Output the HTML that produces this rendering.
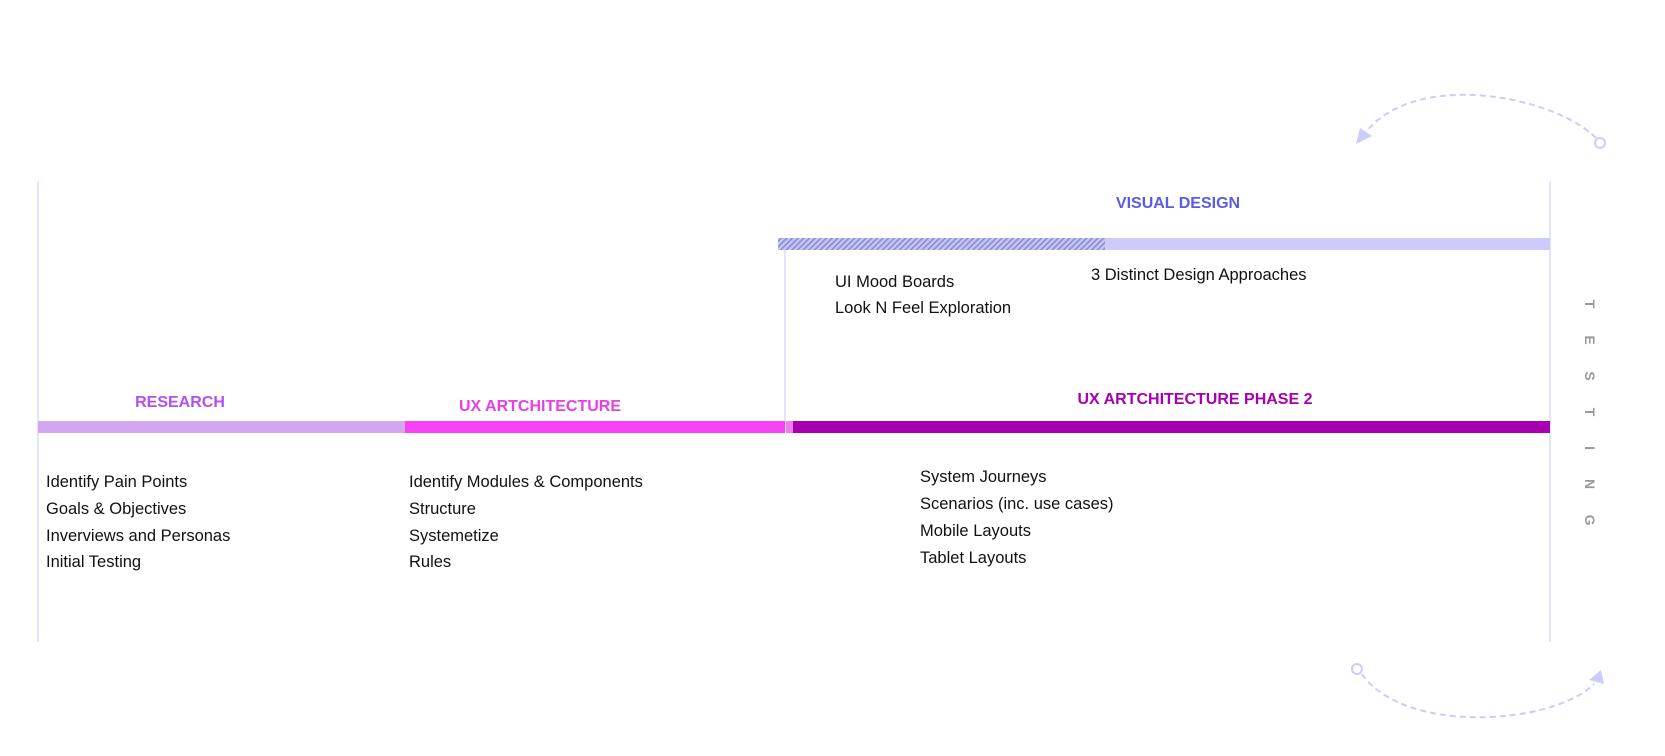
<!DOCTYPE html>
<html><head><meta charset="utf-8"><style>
html,body{margin:0;padding:0;background:#fff;}
svg{display:block;}
text{font-family:"Liberation Sans",sans-serif;}
</style></head><body>
<svg width="1665" height="756" viewBox="0 0 1665 756" xmlns="http://www.w3.org/2000/svg">
<defs>
<pattern id="h" width="4" height="4" patternUnits="userSpaceOnUse" patternTransform="rotate(45)">
<rect width="4" height="4" fill="#c4c4f2"/><rect width="1.5" height="4" fill="#8a8ad0"/>
</pattern>
</defs>
<rect x="37" y="181" width="2" height="461" fill="#e3e3fb"/>
<rect x="1549" y="181" width="2" height="461" fill="#e3e3fb"/>
<rect x="784" y="250" width="2" height="182" fill="#e3e3fb"/>
<rect x="778" y="238" width="772" height="12" fill="#ccccfc"/>
<rect x="778" y="238" width="327" height="12" fill="url(#h)"/>
<rect x="38" y="421" width="367" height="12" fill="#d4a6f2"/>
<rect x="405" y="421" width="380" height="12" fill="#f542f5"/>
<rect x="786" y="421" width="7" height="12" fill="#f07cf0"/>
<rect x="793" y="421" width="757" height="12" fill="#a600b0"/>
<g font-weight="bold" font-size="16" text-anchor="middle">
<text x="1178" y="208" fill="#5b5be8">VISUAL DESIGN</text>
<text x="180" y="407" fill="#b44ef0">RESEARCH</text>
<text x="540" y="411" fill="#e83ee8">UX ARTCHITECTURE</text>
<text x="1195" y="404" fill="#a600b0">UX ARTCHITECTURE PHASE 2</text>
</g>
<g font-size="16.5" fill="#111">
<text x="46" y="487">Identify Pain Points</text>
<text x="46" y="514">Goals &amp; Objectives</text>
<text x="46" y="541">Inverviews and Personas</text>
<text x="46" y="567">Initial Testing</text>
<text x="409" y="487">Identify Modules &amp; Components</text>
<text x="409" y="514">Structure</text>
<text x="409" y="541">Systemetize</text>
<text x="409" y="567">Rules</text>
<text x="920" y="482">System Journeys</text>
<text x="920" y="509">Scenarios (inc. use cases)</text>
<text x="920" y="536">Mobile Layouts</text>
<text x="920" y="563">Tablet Layouts</text>
<text x="835" y="287">UI Mood Boards</text>
<text x="835" y="313">Look N Feel Exploration</text>
<text x="1091" y="280">3 Distinct Design Approaches</text>
</g>
<g font-weight="bold" font-size="14" fill="#999">
<text transform="translate(1585,304) rotate(90)" text-anchor="middle">T</text>
<text transform="translate(1585,340) rotate(90)" text-anchor="middle">E</text>
<text transform="translate(1585,376) rotate(90)" text-anchor="middle">S</text>
<text transform="translate(1585,412) rotate(90)" text-anchor="middle">T</text>
<text transform="translate(1585,448) rotate(90)" text-anchor="middle">I</text>
<text transform="translate(1585,484) rotate(90)" text-anchor="middle">N</text>
<text transform="translate(1585,520) rotate(90)" text-anchor="middle">G</text>
</g>
<g fill="none" stroke="#ccccfc" stroke-width="2" stroke-dasharray="6,4">
<path d="M1596,138 C1553,95 1415,70 1366,132"/>
<path d="M1362,674 C1404,735 1553,725 1594,684"/>
</g>
<circle cx="1600" cy="143" r="5" fill="#fff" stroke="#ccccfc" stroke-width="2"/>
<circle cx="1357" cy="669" r="5" fill="#fff" stroke="#ccccfc" stroke-width="2"/>
<polygon points="1356,144 1360,128 1372,136" fill="#ccccfc"/>
<polygon points="1604,684 1601,670 1589,680" fill="#ccccfc"/>
</svg>
</body></html>
